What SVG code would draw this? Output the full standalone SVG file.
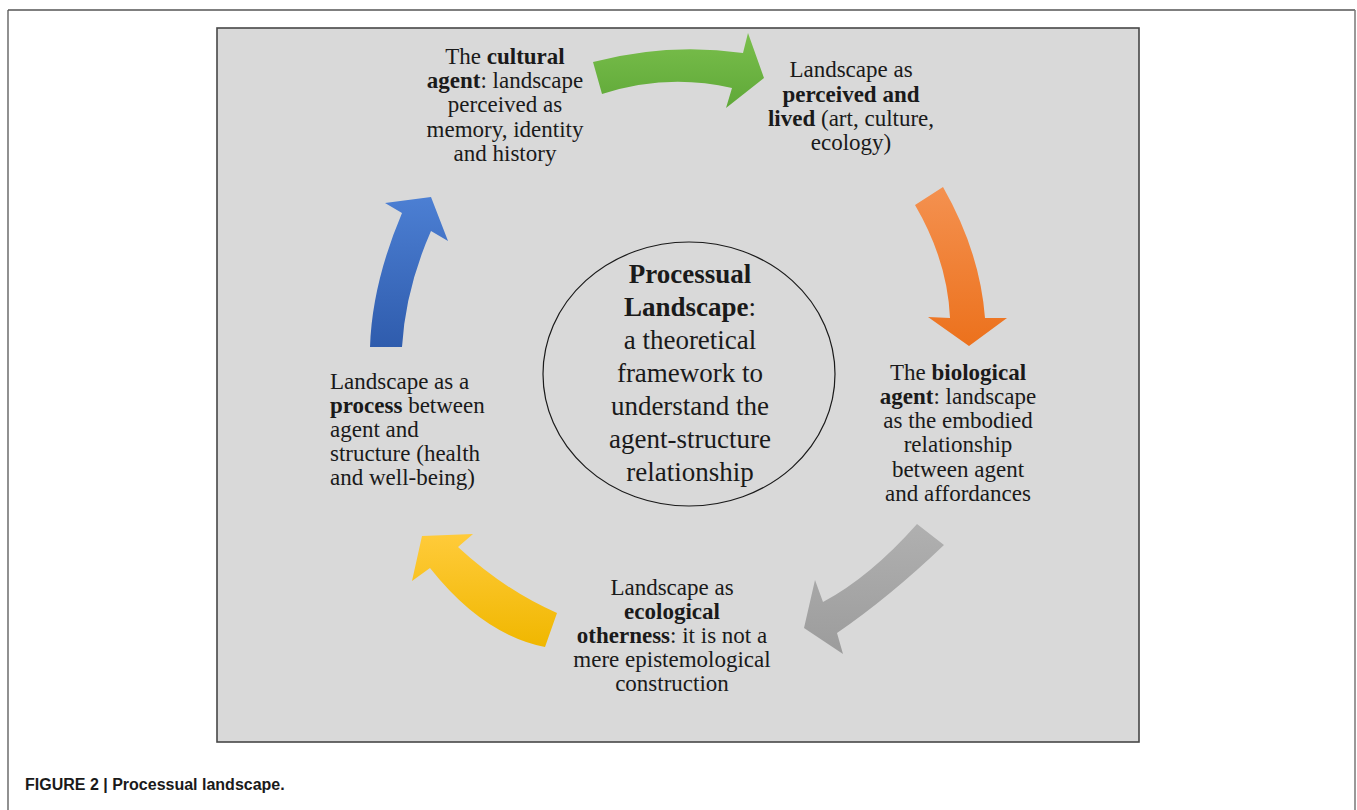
<svg xmlns="http://www.w3.org/2000/svg" width="1357" height="810" viewBox="0 0 1357 810">
<defs>
<style>
.t{font-family:"Liberation Serif","Times New Roman",serif;font-size:23px;fill:#1a1a1a;text-anchor:middle}
.l{text-anchor:start}
.c{font-family:"Liberation Serif","Times New Roman",serif;font-size:27px;fill:#1a1a1a;text-anchor:middle}
.b{font-weight:bold}
.cap{font-family:"Liberation Sans",Arial,sans-serif;font-size:16px;font-weight:bold;fill:#1a1a1a}
</style>
<linearGradient id="gG" x1="0" y1="0" x2="0" y2="1"><stop offset="0" stop-color="#7abf4c"/><stop offset="1" stop-color="#5fa838"/></linearGradient>
<linearGradient id="gO" x1="0" y1="0" x2="0" y2="1"><stop offset="0" stop-color="#f49150"/><stop offset="1" stop-color="#ec711c"/></linearGradient>
<linearGradient id="gA" x1="0" y1="0" x2="0" y2="1"><stop offset="0" stop-color="#b0b0b0"/><stop offset="1" stop-color="#9c9c9c"/></linearGradient>
<linearGradient id="gY" x1="0" y1="0" x2="0" y2="1"><stop offset="0" stop-color="#ffcb3a"/><stop offset="1" stop-color="#f0b700"/></linearGradient>
<linearGradient id="gB" x1="0" y1="0" x2="0" y2="1"><stop offset="0" stop-color="#4c7fd3"/><stop offset="1" stop-color="#2f5cad"/></linearGradient>
</defs>
<rect width="1357" height="810" fill="#ffffff"/>
<g id="frame" fill="none">
<line x1="8" y1="10" x2="1355" y2="10" stroke="#7f7f7f" stroke-width="2"/>
<line x1="8" y1="10" x2="8" y2="810" stroke="#555" stroke-width="1.3"/>
<line x1="1355" y1="10" x2="1355" y2="810" stroke="#777" stroke-width="1.5"/>
</g>
<rect id="panel" x="217" y="28" width="922" height="714" fill="#d9d9d9" stroke="#474747" stroke-width="1.6"/>
<g id="connectors">
<path id="arrow-green" fill="url(#gG)" d="M593,62 Q668,42.5 743,53 L748,33 L764,78 L726,108 L732,88 Q667,73 602,94 Z"/>
<path id="arrow-orange" fill="url(#gO)" d="M915,205 L943,187 Q980,252 985,318 L1007,318 L969,346 L928,317 L950,318 Q947.5,260.5 915,205 Z"/>
<path id="arrow-gray" fill="url(#gA)" d="M917,524 L944,545 Q889.5,597 837,633 L843,654 L804,628 L815,580 L823,602 Q870,577 917,524 Z"/>
<path id="arrow-yellow" fill="url(#gY)" d="M557,613 L545,647 Q482.5,634.5 430,568 L412,581 L422,536 L473,534 L458,547 Q504.5,590 557,613 Z"/>
<path id="arrow-blue" fill="url(#gB)" d="M370,347 L402,347 Q405.5,289 431,231 L448,241 L431,197 L385,203 L402,213 Q372,284 370,347 Z"/>
</g>
<g id="node-cultural">
<text class="t" x="505" y="64">The <tspan class="b">cultural</tspan></text>
<text class="t" x="505" y="88"><tspan class="b">agent</tspan>: landscape</text>
<text class="t" x="505" y="112">perceived as</text>
<text class="t" x="505" y="137">memory, identity</text>
<text class="t" x="505" y="161">and history</text>
</g>
<g id="node-perceived">
<text class="t" x="851" y="77">Landscape as</text>
<text class="t b" x="851" y="102">perceived and</text>
<text class="t" x="851" y="126"><tspan class="b">lived</tspan> (art, culture,</text>
<text class="t" x="851" y="150">ecology)</text>
</g>
<g id="node-center">
<ellipse cx="689" cy="374" rx="146" ry="132" fill="none" stroke="#1a1a1a" stroke-width="1.2"/>
<text class="c b" x="690" y="283">Processual</text>
<text class="c" x="690" y="316"><tspan class="b">Landscape</tspan>:</text>
<text class="c" x="690" y="349">a theoretical</text>
<text class="c" x="690" y="382">framework to</text>
<text class="c" x="690" y="415">understand the</text>
<text class="c" x="690" y="448">agent-structure</text>
<text class="c" x="690" y="481">relationship</text>
</g>
<g id="node-biological">
<text class="t" x="958" y="380">The <tspan class="b">biological</tspan></text>
<text class="t" x="958" y="404"><tspan class="b">agent</tspan>: landscape</text>
<text class="t" x="958" y="428">as the embodied</text>
<text class="t" x="958" y="452">relationship</text>
<text class="t" x="958" y="477">between agent</text>
<text class="t" x="958" y="501">and affordances</text>
</g>
<g id="node-ecological">
<text class="t" x="672" y="595">Landscape as</text>
<text class="t b" x="672" y="619">ecological</text>
<text class="t" x="672" y="643"><tspan class="b">otherness</tspan>: it is not a</text>
<text class="t" x="672" y="667">mere epistemological</text>
<text class="t" x="672" y="691">construction</text>
</g>
<g id="node-process">
<text class="t l" x="330" y="389">Landscape as a</text>
<text class="t l" x="330" y="413"><tspan class="b">process</tspan> between</text>
<text class="t l" x="330" y="437">agent and</text>
<text class="t l" x="330" y="461">structure (health</text>
<text class="t l" x="330" y="485">and well-being)</text>
</g>
<text class="cap" x="25" y="790">FIGURE 2 | Processual landscape.</text>
</svg>
